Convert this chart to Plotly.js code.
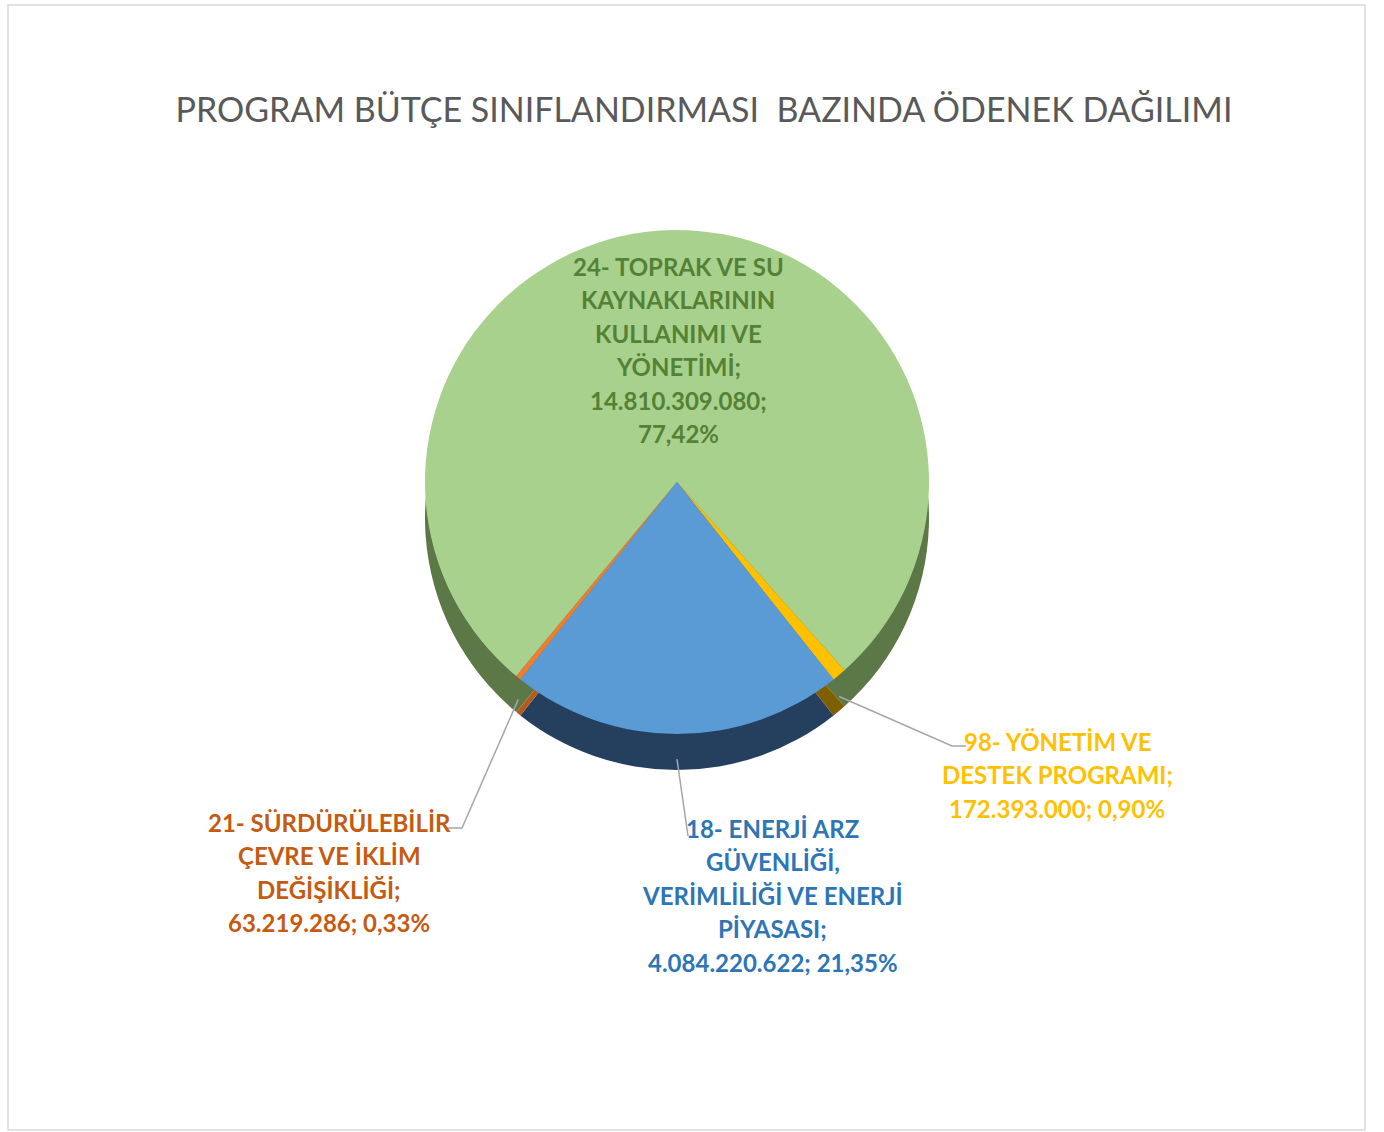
<!DOCTYPE html>
<html>
<head>
<meta charset="utf-8">
<script src="https://cdn.plot.ly/plotly-3.0.1.min.js"></script>
<style>
  html, body { margin: 0; padding: 0; background: #ffffff; }
  #chart { width: 1384px; height: 1132px; }
</style>
</head>
<body>
<div id="chart"></div>
<script>
// ---- data ----
const programCodes = ['24', '98', '18', '21'];
const programLabels = [
  '24- TOPRAK VE SU<br>KAYNAKLARININ<br>KULLANIMI VE<br>YÖNETİMİ',
  '98- YÖNETİM VE<br>DESTEK PROGRAMI',
  '18- ENERJİ ARZ<br>GÜVENLİĞİ,<br>VERİMLİLİĞİ VE ENERJİ<br>PİYASASI',
  '21- SÜRDÜRÜLEBİLİR<br>ÇEVRE VE İKLİM<br>DEĞİŞİKLİĞİ'
];
const appropriations = [14810309080, 172393000, 4084220622, 63219286];
const chartTitle = 'PROGRAM BÜTÇE SINIFLANDIRMASI  BAZINDA ÖDENEK DAĞILIMI';

// ---- styles ----
const W = 1384, H = 1132;
const topColors  = ['#A9D18E', '#FFC000', '#5B9BD5', '#ED7D31'];
const sideColors = ['#5B7846', '#7F6000', '#25405E', '#B65A1C'];
const textColors = ['#548235', '#FFC000', '#2E75B6', '#C55A11'];
const cx = 677, cy = 482, r = 252, depth = 36;

const total = appropriations.reduce((a, b) => a + b, 0);
const fmtNum = v => String(v).replace(/\B(?=(\d{3})+(?!\d))/g, '.');
const fmtPct = v => (v / total * 100).toFixed(2).replace('.', ',') + '%';

// rotate so that the third slice (18-) is centred at 6 o'clock
const fr = appropriations.map(v => v / total);
const blueMid = (fr[0] + fr[1] + fr[2] / 2) * 360;
let rotation = 180 - blueMid;
while (rotation < -360) rotation += 360;
while (rotation > 360) rotation -= 360;

function domainFor(yc) {
  return {
    x: [(cx - r) / W, (cx + r) / W],
    y: [1 - (yc + r) / H, 1 - (yc - r) / H]
  };
}

const base = {
  type: 'pie',
  labels: programCodes,
  values: appropriations,
  sort: false,
  direction: 'clockwise',
  rotation: rotation,
  textinfo: 'none',
  hoverinfo: 'label+value+percent',
  showlegend: false
};

const sideTrace = Object.assign({}, base, {
  domain: domainFor(cy + depth),
  marker: { colors: sideColors, line: { width: 0 } },
  hoverinfo: 'skip'
});
const topTrace = Object.assign({}, base, {
  domain: domainFor(cy),
  marker: { colors: topColors, line: { width: 0 } }
});

// slice mid-angles (clockwise from 12 o'clock) for leader lines
const mids = [];
let acc = rotation;
fr.forEach(f => { mids.push(acc + f * 180); acc += f * 360; });
function edgePoint(i, extra) {
  const a = mids[i] * Math.PI / 180;
  return [cx + r * Math.sin(a), cy - r * Math.cos(a) + extra];
}
const px = x => x / W;
const py = y => 1 - y / H;

function labelLines(i) {
  const name = programLabels[i] + ';';
  const num = fmtNum(appropriations[i]);
  const pct = fmtPct(appropriations[i]);
  const tail = i === 0 ? [num + ';', pct] : [num + '; ' + pct];
  return name.split('<br>').concat(tail);
}

// first-line centre positions and line pitch of each label block
const labelTop = [[678, 266], [1057, 741], [773, 828], [329, 822]];
const linePitch = 33.5;
const annFont = c => ({ family: 'Lato, "Open Sans", sans-serif', size: 24, color: c });

const annotations = [];
[0, 1, 2, 3].forEach(i => {
  labelLines(i).forEach((ln, k) => {
    annotations.push({
      text: '<b>' + ln + '</b>',
      x: px(labelTop[i][0]), y: py(labelTop[i][1] + k * linePitch),
      xref: 'paper', yref: 'paper',
      xanchor: 'center', yanchor: 'middle',
      showarrow: false,
      font: annFont(textColors[i])
    });
  });
});

// leader lines
const tipY = edgePoint(1, depth * 0.6), tipB = edgePoint(2, depth * 0.7), tipO = edgePoint(3, depth * 0.6);
const lineStyle = { color: '#A6A6A6', width: 1.5 };
const path = pts => 'M ' + pts.map(p => px(p[0]) + ',' + py(p[1])).join(' L ');
const shapes = [
  { type: 'rect', xref: 'paper', yref: 'paper',
    x0: px(8), x1: px(1365), y0: py(1130), y1: py(5),
    line: { color: '#D9D9D9', width: 1.5 } },
  { type: 'path', xref: 'paper', yref: 'paper', path: path([tipO, [462, 828], [447, 828]]), line: lineStyle },
  { type: 'path', xref: 'paper', yref: 'paper', path: path([tipB, [688, 836]]), line: lineStyle },
  { type: 'path', xref: 'paper', yref: 'paper', path: path([tipY, [952, 746], [966, 746]]), line: lineStyle }
];

const layout = {
  width: W, height: H,
  margin: { l: 0, r: 0, t: 0, b: 0 },
  paper_bgcolor: '#ffffff',
  title: {
    text: chartTitle,
    font: { family: 'Lato, "Open Sans", sans-serif', size: 34, color: '#595959' },
    x: px(704), xanchor: 'center', xref: 'paper',
    y: py(110), yanchor: 'middle', yref: 'container'
  },
  annotations: annotations,
  shapes: shapes
};

Plotly.newPlot('chart', [sideTrace, topTrace], layout, { displayModeBar: false });
</script>
</body>
</html>
